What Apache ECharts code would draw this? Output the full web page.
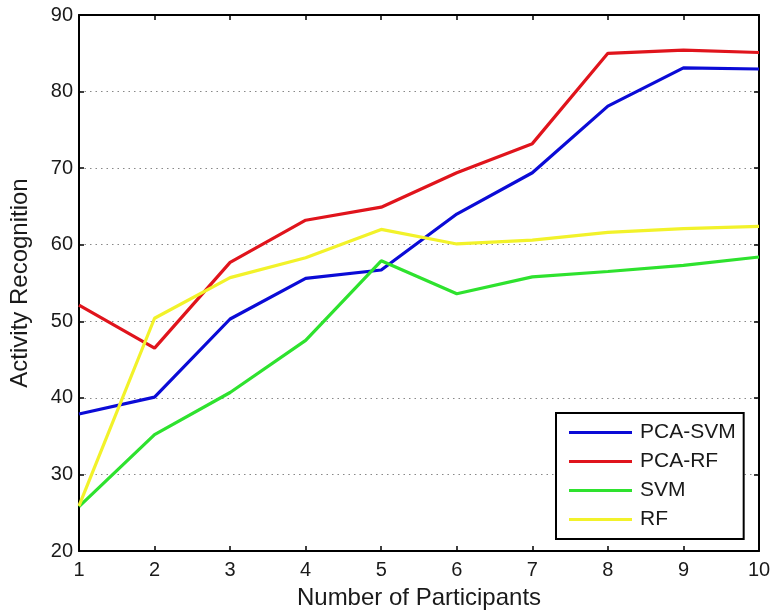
<!DOCTYPE html>
<html><head><meta charset="utf-8">
<script src="https://cdn.jsdelivr.net/npm/echarts@6/dist/echarts.min.js"></script>
<style>html,body{margin:0;padding:0;background:#fff}#c{width:774px;height:615px}</style>
</head><body><div id="c"></div>
<script>
const participants = [1, 2, 3, 4, 5, 6, 7, 8, 9, 10];
const pcaSvm = [37.9, 40.1, 50.3, 55.6, 56.7, 64.0, 69.4, 78.1, 83.1, 82.95];
const pcaRf  = [52.1, 46.5, 57.7, 63.2, 64.9, 69.4, 73.2, 85.0, 85.4, 85.1];
const svm    = [25.8, 35.2, 40.7, 47.5, 57.9, 53.6, 55.8, 56.5, 57.3, 58.4];
const rf     = [25.9, 50.4, 55.7, 58.3, 62.0, 60.1, 60.6, 61.6, 62.1, 62.4];
const seriesNames = ['PCA-SVM', 'PCA-RF', 'SVM', 'RF'];
const seriesColors = ['#0b0bd6', '#e0141c', '#2ee22e', '#f2f22a'];
const seriesData = [pcaSvm, pcaRf, svm, rf];

const font = 'Liberation Sans, Arial, sans-serif';
const chart = echarts.init(document.getElementById('c'), null, {renderer: 'canvas'});
const baseX = {
  type: 'value', min: 1, max: 10, interval: 1,
  axisLine: {show: true, lineStyle: {color: '#000', width: 2}},
  axisTick: {show: true, inside: true, length: 5, lineStyle: {color: '#000', width: 1.5}},
  splitLine: {show: false}
};
const baseY = {
  type: 'value', min: 20, max: 90, interval: 10,
  axisLine: {show: true, lineStyle: {color: '#000', width: 2}},
  axisTick: {show: true, inside: true, length: 5, lineStyle: {color: '#000', width: 1.5}}
};
chart.setOption({
  animation: false,
  backgroundColor: '#fff',
  grid: {left: 78, top: 15, width: 681, height: 539, containLabel: false},
  xAxis: [
    Object.assign({}, baseX, {
      position: 'bottom',
      name: 'Number of Participants', nameLocation: 'middle', nameGap: 35,
      nameTextStyle: {fontFamily: font, fontSize: 24, color: '#1a1a1a'},
      axisLabel: {fontFamily: font, fontSize: 20, color: '#1a1a1a', margin: 9}
    }),
    Object.assign({}, baseX, {position: 'top', axisLabel: {show: false}})
  ],
  yAxis: [
    Object.assign({}, baseY, {
      position: 'left',
      name: 'Activity Recognition', nameLocation: 'middle', nameGap: 47,
      nameTextStyle: {fontFamily: font, fontSize: 24, color: '#1a1a1a'},
      axisLabel: {fontFamily: font, fontSize: 20, color: '#1a1a1a', margin: 6},
      splitLine: {show: true, lineStyle: {color: '#888', type: [1.5, 4], width: 1}}
    }),
    Object.assign({}, baseY, {position: 'right', axisLabel: {show: false}, splitLine: {show: false}})
  ],
  legend: {
    orient: 'vertical', left: 556, top: 413,
    backgroundColor: '#fff', borderColor: '#000', borderWidth: 2,
    padding: [9, 8, 9, 13],
    itemWidth: 63, itemHeight: 3, itemGap: 8, icon: 'rect',
    textStyle: {fontFamily: font, fontSize: 21, color: '#1a1a1a', padding: [0, 0, 0, 3]},
    data: seriesNames
  },
  series: seriesData.map((d, i) => ({
    name: seriesNames[i], type: 'line',
    data: participants.map((p, j) => [p, d[j]]),
    showSymbol: false, symbol: 'none',
    lineStyle: {color: seriesColors[i], width: 3.2},
    itemStyle: {color: seriesColors[i]},
    z: 3
  }))
});
</script></body></html>
